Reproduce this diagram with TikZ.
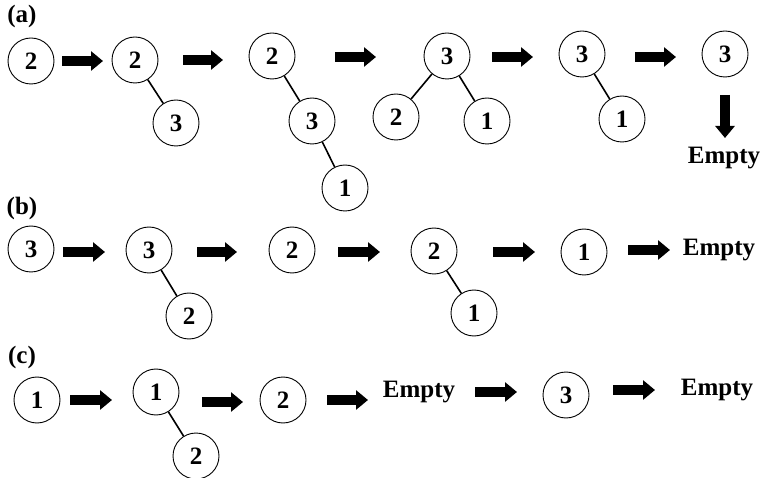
\documentclass[tikz,border=0pt]{standalone}
\usepackage{fontspec}
\setmainfont{Liberation Serif}
\usetikzlibrary{arrows.meta}
\begin{document}
\begin{tikzpicture}[x=1pt,y=-1pt,
  key/.style={circle,draw,line width=0.9pt,minimum size=46pt,inner sep=0pt,
    font=\fontsize{25}{25}\selectfont\bfseries},
  word/.style={font=\fontsize{25}{25}\selectfont\bfseries,inner sep=0pt},
  tag/.style={font=\fontsize{25}{25}\selectfont\bfseries,inner sep=0pt},
  link/.style={line width=1.6pt},
  step arrow/.style={line width=10pt,-{Triangle[length=12pt,width=19pt]}}]
\useasboundingbox (0,0) rectangle (763,478);

% ---- (a) ----
\node[tag] (la) at (22,16) {(a)};
\node[key] (a1) at (31,61) {2};
\node[key] (a2) at (135,60) {2};
\node[key] (a2c) at (176,123) {3};
\node[key] (a3) at (272,56) {2};
\node[key] (a3c) at (312,121) {3};
\node[key] (a3cc) at (345,188) {1};
\node[key] (a4) at (447,56) {3};
\node[key] (a4l) at (396,117) {2};
\node[key] (a4r) at (487,121) {1};
\node[key] (a5) at (582,54) {3};
\node[key] (a5c) at (622,119) {1};
\node[key] (a6) at (725,54) {3};
\node[word] (ae) at (724,158) {Empty};
\draw[link] (a2) -- (a2c);
\draw[link] (a3) -- (a3c);
\draw[link] (a3c) -- (a3cc);
\draw[link] (a4) -- (a4l);
\draw[link] (a4) -- (a4r);
\draw[link] (a5) -- (a5c);
\coordinate (pa1) at (62,61);  \coordinate (qa1) at (103,61);
\coordinate (pa2) at (183,60); \coordinate (qa2) at (223,60);
\coordinate (pa3) at (335,57); \coordinate (qa3) at (376,57);
\coordinate (pa4) at (492,57); \coordinate (qa4) at (533,57);
\coordinate (pa5) at (635,57); \coordinate (qa5) at (676,57);
\coordinate (pa6) at (725,95); \coordinate (qa6) at (725,138);
\foreach \i in {1,...,6} \draw[step arrow] (pa\i) -- (qa\i);

% ---- (b) ----
\node[tag] (lb) at (22,208) {(b)};
\node[key] (b1) at (31,249) {3};
\node[key] (b2) at (149,250) {3};
\node[key] (b2c) at (189,316) {2};
\node[key] (b3) at (292,250) {2};
\node[key] (b4) at (434,251) {2};
\node[key] (b4c) at (474,313) {1};
\node[key] (b5) at (584,252) {1};
\node[word] (be) at (719,250) {Empty};
\draw[link] (b2) -- (b2c);
\draw[link] (b4) -- (b4c);
\coordinate (pb1) at (63,252);  \coordinate (qb1) at (105,252);
\coordinate (pb2) at (197,252); \coordinate (qb2) at (237,252);
\coordinate (pb3) at (338,252); \coordinate (qb3) at (380,252);
\coordinate (pb4) at (493,252); \coordinate (qb4) at (535,252);
\coordinate (pb5) at (628,250); \coordinate (qb5) at (670,250);
\foreach \i in {1,...,5} \draw[step arrow] (pb\i) -- (qb\i);

% ---- (c) ----
\node[tag] (lc) at (22,357) {(c)};
\node[key] (c1) at (37,400) {1};
\node[key] (c2) at (156,392) {1};
\node[key] (c2c) at (196,456) {2};
\node[key] (c3) at (283,400) {2};
\node[word] (ce1) at (419,392) {Empty};
\node[key] (c4) at (566,395) {3};
\node[word] (ce2) at (717,390) {Empty};
\draw[link] (c2) -- (c2c);
\coordinate (pc1) at (70,400);  \coordinate (qc1) at (112,400);
\coordinate (pc2) at (202,402); \coordinate (qc2) at (243,402);
\coordinate (pc3) at (327,400); \coordinate (qc3) at (368,400);
\coordinate (pc4) at (475,392); \coordinate (qc4) at (517,392);
\coordinate (pc5) at (613,390); \coordinate (qc5) at (655,390);
\foreach \i in {1,...,5} \draw[step arrow] (pc\i) -- (qc\i);
\end{tikzpicture}
\end{document}
